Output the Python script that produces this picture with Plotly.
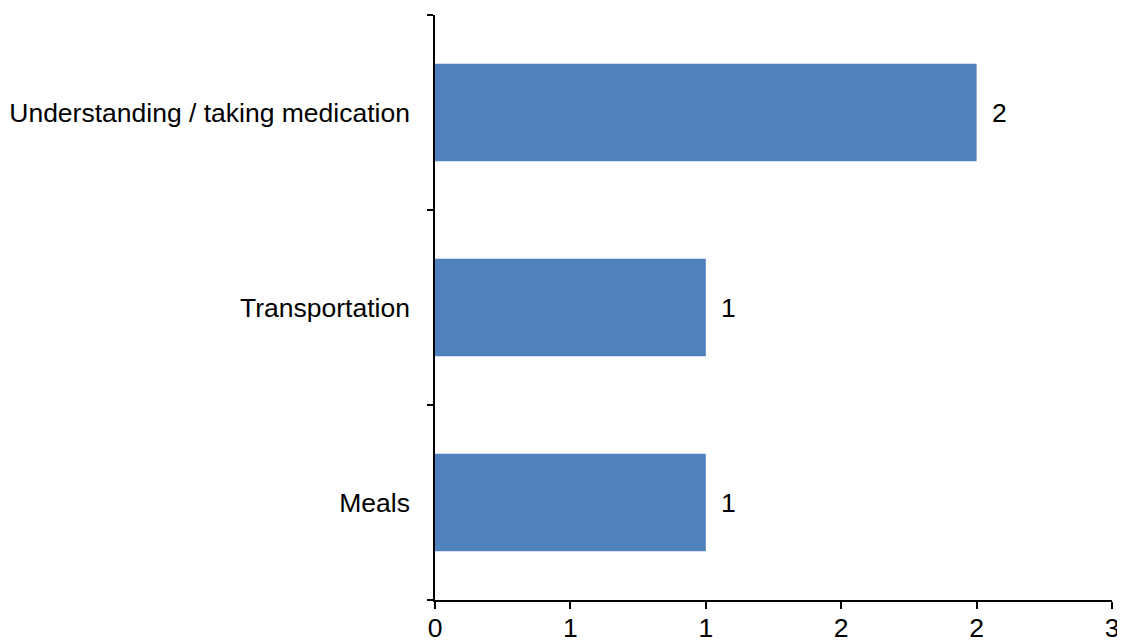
import plotly.graph_objects as go

categories = ["Meals", "Transportation", "Understanding / taking medication"]
values = [1, 1, 2]
value_labels = ["1", "1", "2"]
x_tickvals = [0, 0.5, 1.0, 1.5, 2.0, 2.5]
x_ticktext = ["0", "1", "1", "2", "2", "3"]

FONT = "Liberation Sans, Arial, sans-serif"
FS = 26.5

fig = go.Figure(go.Bar(
    x=values, y=categories, orientation="h",
    marker=dict(color="#4F81BD", line=dict(width=0)),
    width=0.5,
))

for c, v, t in zip(categories, values, value_labels):
    fig.add_annotation(x=v, y=c, text=t, showarrow=False, xanchor="left",
                       xshift=13, font=dict(size=FS, color="black", family=FONT))

fig.update_layout(
    width=1125, height=642,
    margin=dict(l=427, r=21, t=7, b=50, autoexpand=False),
    plot_bgcolor="white", paper_bgcolor="white",
    font=dict(family=FONT, size=FS, color="black"),
    showlegend=False,
    bargap=0.5,
)
fig.update_xaxes(
    range=[0, 2.5], tickvals=x_tickvals, ticktext=x_ticktext, automargin=False,
    showgrid=False, zeroline=False, showline=True, linecolor="black", linewidth=1.5,
    ticks="outside", ticklen=7, tickcolor="black", tickwidth=1.5,
    tickfont=dict(size=FS, family=FONT), ticklabelstandoff=-4,
)
fig.update_yaxes(
    type="category", categoryorder="array", categoryarray=categories, automargin=False,
    showgrid=False, zeroline=False, showline=True, linecolor="black", linewidth=1.5,
    ticks="outside", ticklen=6, tickcolor="black", tickwidth=1.5, tickson="boundaries",
    tickfont=dict(size=FS, family=FONT), ticklabelstandoff=18,
)

fig.write_html("out.html")
